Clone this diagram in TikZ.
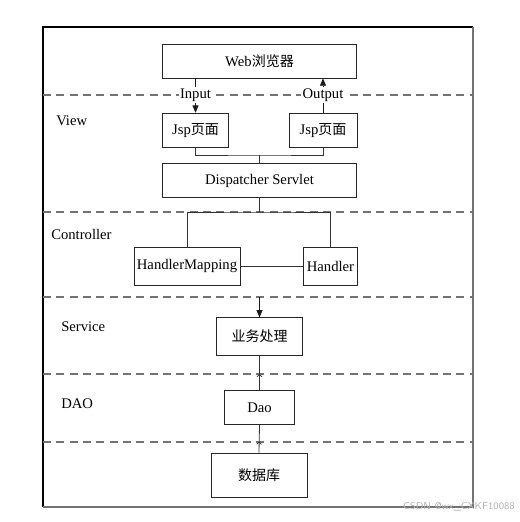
\documentclass[tikz,border=0pt]{standalone}
\usepackage{fontspec}
\setmainfont{Liberation Serif}
\newfontfamily\cjk{Noto Sans CJK SC}
\usetikzlibrary{arrows.meta, positioning, calc, decorations.markings}
\tikzset{
    layer_box/.style={
        rectangle, draw=black!85, line width=0.6pt, fill=white,
        minimum width=51pt, minimum height=26pt, inner sep=2pt,
        align=center, font=\fontsize{11}{13}\selectfont
    },
    layer_sep/.style={
        draw=black!55, line width=0.9pt, dash pattern=on 6pt off 4pt
    },
    link_line/.style={
        draw=black!80, line width=0.6pt
    },
    flow_arrow/.style={
        -{Triangle[length=5.5pt, width=4.5pt]}, draw=black!90, line width=0.6pt
    },
    tiny_tip/.style={
        link_line, postaction={decorate},
        decoration={markings, mark=at position #1 with {\arrow{To[length=2.2pt, width=4pt]}}}
    },
    io_lbl/.style={
        fill=white, inner sep=1pt, font=\fontsize{11}{13}\selectfont
    },
    layer_lbl/.style={
        anchor=west, inner sep=0pt, font=\fontsize{11}{13}\selectfont
    }
}

\begin{document}
\begin{tikzpicture}[x=0.75pt, y=-0.75pt]

    \useasboundingbox (0,0) rectangle (519,522);

    % frame
    \draw[black, line width=0.8pt] (43,507) -- (43,27) -- (473,27);
    \draw[black!55, line width=1.3pt] (473,27) -- (473,507) -- (43,507);

    % layer separators
    \foreach \sy in {95, 212, 297, 374, 442}
        \draw[layer_sep] (43,\sy) -- (473,\sy);

    % layer names
    \node[layer_lbl] (view_lbl) at (56,121) {View};
    \node[layer_lbl] (ctrl_lbl) at (51,234) {Controller};
    \node[layer_lbl] (svc_lbl) at (61,327) {Service};
    \node[layer_lbl] (dao_lbl) at (61,404) {DAO};

    % boxes
    \node[layer_box, minimum width=146pt, minimum height=25.5pt] (web) at (259.5,61) {Web{\cjk\fontsize{10.5}{12}\selectfont 浏览器}};
    \node[layer_box, minimum width=50pt] (jsp_in) at (195.5,130.5) {Jsp{\cjk\fontsize{10.5}{12}\selectfont 页面}};
    \node[layer_box, minimum width=51pt] (jsp_out) at (323,130.5) {Jsp{\cjk\fontsize{10.5}{12}\selectfont 页面}};
    \node[layer_box, minimum width=146pt] (dispatcher) at (259.5,180.5) {Dispatcher Servlet};
    \node[layer_box, minimum width=79.5pt, minimum height=28.5pt] (hmapping) at (187,266) {HandlerMapping};
    \node[layer_box, minimum width=40pt, minimum height=28.5pt] (handler) at (330.5,266) {Handler};
    \node[layer_box, minimum width=64pt, minimum height=28pt] (biz) at (259.5,336.5) {\cjk\fontsize{10.5}{12}\selectfont 业务处理};
    \node[layer_box, minimum width=52pt] (dao) at (259.5,407.5) {Dao};
    \node[layer_box, minimum width=72pt, minimum height=33pt] (db) at (259,475) {\cjk\fontsize{10.5}{12}\selectfont 数据库};

    % joints
    \coordinate (jsp_join) at (259.5,155);
    \coordinate (ctrl_join) at (259.5,212);
    \coordinate (svc_in) at (259.5,297);

    % connectors
    \draw[flow_arrow] (web.south -| jsp_in) -- node[io_lbl, pos=0.48] {Input} (jsp_in.north);
    \draw[flow_arrow] (jsp_out.north) -- node[io_lbl, pos=0.52] {Output} (web.south -| jsp_out);
    \draw[link_line] (jsp_in.south) |- (jsp_join) -| (jsp_out.south);
    \draw[link_line] (jsp_join) -- (dispatcher.north);
    \draw[link_line] (dispatcher.south) -- (ctrl_join);
    \draw[link_line] (hmapping.north) |- (ctrl_join) -| (handler.north);
    \draw[link_line] (hmapping) -- (handler);
    \draw[flow_arrow] (svc_in) -- (biz.north);
    \draw[tiny_tip=0.46] (dao.north) -- (biz.south);
    \draw[tiny_tip=0.4] (db.north) -- (dao.south);

    % watermark
    \node[anchor=east, inner sep=0pt, text=black!30, font=\sffamily\fontsize{7.5}{8}\selectfont] (mark_txt) at (515,507) {CSDN @wx\_CXKF10088};

\end{tikzpicture}
\end{document}
